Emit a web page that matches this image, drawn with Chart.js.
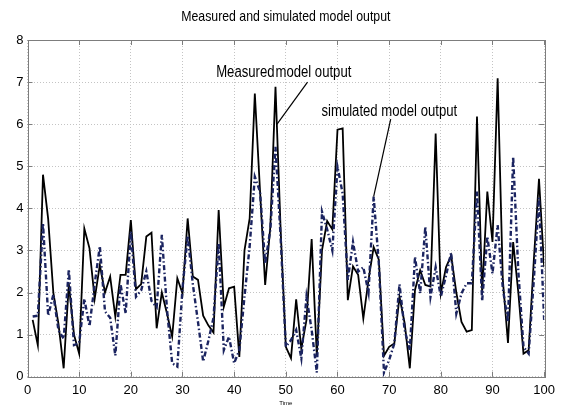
<!DOCTYPE html>
<html>
<head>
<meta charset="utf-8">
<title>Measured and simulated model output</title>
<script src="https://cdn.jsdelivr.net/npm/chart.js@4.4.1/dist/chart.umd.min.js"></script>
<style>
    body { margin: 0; background: #fff; }
    #chartContainer { width: 561px; height: 407px; }
</style>
</head>
<body>
<div id="chartContainer"><canvas id="myChart" width="561" height="407"></canvas></div>
<script>
// time steps (x) and the two output series
const timeSteps = [
    1, 2, 3, 4, 5, 6, 7, 8, 9, 10, 11, 12, 13, 14, 15, 16, 17, 18, 19, 20,
    21, 22, 23, 24, 25, 26, 27, 28, 29, 30, 31, 32, 33, 34, 35, 36, 37, 38, 39, 40,
    41, 42, 43, 44, 45, 46, 47, 48, 49, 50, 51, 52, 53, 54, 55, 56, 57, 58, 59, 60,
    61, 62, 63, 64, 65, 66, 67, 68, 69, 70, 71, 72, 73, 74, 75, 76, 77, 78, 79, 80,
    81, 82, 83, 84, 85, 86, 87, 88, 89, 90, 91, 92, 93, 94, 95, 96, 97, 98, 99, 100
];
const measured = [
    1.35, 0.75, 4.8, 3.75, 2.0, 1.25, 0.2, 2.2, 1.0, 0.55,
    3.52, 3.05, 1.85, 2.65, 2.0, 2.38, 1.43, 2.42, 2.42, 3.72,
    2.08, 2.2, 3.33, 3.42, 1.15, 2.0, 1.5, 0.95, 2.34, 1.98,
    3.76, 2.38, 2.3, 1.45, 1.22, 1.05, 3.96, 1.66, 2.1, 2.14,
    0.47, 3.0, 3.76, 6.73, 4.43, 2.18, 3.56, 6.89, 3.48, 0.71,
    0.44, 1.84, 0.67, 1.35, 3.27, 0.5, 3.0, 3.7, 3.5, 5.87,
    5.9, 1.82, 2.62, 2.42, 1.38, 2.3, 3.08, 2.78, 0.5, 0.71,
    0.79, 1.9, 1.27, 0.2, 2.06, 2.53, 2.18, 2.14, 5.78, 1.98,
    2.6, 2.88, 2.0, 1.3, 1.07, 1.11, 6.18, 2.0, 4.4, 3.2,
    7.09, 2.3, 0.8, 3.2, 2.0, 0.55, 0.63, 2.77, 4.7, 2.6
];
const simulated = [
    1.43, 1.45, 3.65, 1.45, 1.95, 1.1, 0.9, 2.55, 0.75, 0.8,
    1.85, 1.2, 2.2, 3.1, 1.55, 1.4, 0.5, 2.2, 1.5, 3.45,
    1.9, 2.05, 2.5, 1.8, 1.65, 3.37, 1.6, 0.32, 0.24, 2.1,
    3.35, 2.2, 1.3, 0.36, 0.85, 1.4, 3.17, 0.63, 0.95, 0.32,
    0.63, 1.9, 3.1, 4.75, 4.4, 2.69, 3.5, 5.46, 3.3, 0.71,
    0.87, 1.11, 0.44, 1.9, 1.11, 0.1, 3.92, 3.5, 3.0, 4.99,
    4.35, 2.3, 3.2, 2.5, 2.6, 2.0, 4.28, 2.69, 0.1, 0.4,
    0.79, 2.2, 1.11, 0.63, 2.85, 1.98, 3.56, 1.9, 2.6, 1.9,
    2.4, 2.95, 1.5, 1.98, 2.22, 2.22, 4.4, 1.8, 3.33, 2.45,
    3.6, 2.1, 1.3, 5.23, 2.5, 0.71, 0.55, 2.3, 4.25, 1.35
];
const xTicks = [0, 10, 20, 30, 40, 50, 60, 70, 80, 90, 100];
const yTicks = [0, 1, 2, 3, 4, 5, 6, 7, 8];

const chartTitle = 'Measured and simulated model output';

// testo delle frecce (coordinate nei valori degli assi)
const notes = [
    { left: 'Measured', right: 'model output', at: [48, 7.12], from: [54.2, 7.0], tip: [48.3, 6.0] },
    { right: 'simulated model output', at: [56.9, 6.2], from: [70.3, 6.12], tip: [67, simulated[66]] }
];

const FONT = "'Liberation Sans', Arial, sans-serif";
const NARROW = 0.82; // niente Arial Narrow installato: stringo il testo a mano
const FRAME = '#7d7d7d';

function narrowText(ctx, text, x, y, align) {
    ctx.save();
    ctx.translate(x, y);
    ctx.scale(NARROW, 1);
    ctx.textAlign = align;
    ctx.fillText(text, 0, 0);
    ctx.restore();
}

// riquadro + tacche interne stile matlab
const frameAndTicks = {
    id: 'frameAndTicks',
    beforeDatasetsDraw(chart) {
        const { ctx, chartArea: a, scales: { x, y } } = chart;
        ctx.save();
        ctx.strokeStyle = FRAME;
        ctx.lineWidth = 1;
        ctx.beginPath();
        xTicks.forEach(v => {
            const px = Math.round(x.getPixelForValue(v)) + 0.5;
            ctx.moveTo(px, a.bottom); ctx.lineTo(px, a.bottom - 5);
            ctx.moveTo(px, a.top); ctx.lineTo(px, a.top + 5);
        });
        yTicks.forEach(v => {
            const py = Math.round(y.getPixelForValue(v)) + 0.5;
            ctx.moveTo(a.left, py); ctx.lineTo(a.left + 5, py);
            ctx.moveTo(a.right, py); ctx.lineTo(a.right - 5, py);
        });
        ctx.stroke();
        ctx.strokeRect(Math.round(a.left) + 0.5, Math.round(a.top) + 0.5,
            Math.round(a.width), Math.round(a.height));
        ctx.restore();
    }
};

// titolo e frecce con le etichette
const arrows = {
    id: 'arrows',
    afterDatasetsDraw(chart) {
        const { ctx, chartArea: a, scales: { x, y } } = chart;
        const px = p => [x.getPixelForValue(p[0]), y.getPixelForValue(p[1])];
        ctx.save();
        ctx.fillStyle = '#000';
        ctx.strokeStyle = '#000';
        ctx.textBaseline = 'alphabetic';

        ctx.font = '15px ' + FONT;
        narrowText(ctx, chartTitle, (a.left + a.right) / 2, 21, 'center');

        ctx.font = '16px ' + FONT;
        ctx.lineWidth = 1.2;
        notes.forEach(n => {
            const [tx, ty] = px(n.at);
            if (n.left) {
                narrowText(ctx, n.left, tx - 1, ty, 'right');
            }
            narrowText(ctx, n.right, tx, ty, 'left');
            const [fx, fy] = px(n.from);
            const [ex, ey] = px(n.tip);
            ctx.beginPath();
            ctx.moveTo(fx, fy);
            ctx.lineTo(ex, ey);
            ctx.stroke();
        });
        ctx.restore();
    }
};

const ctx = document.getElementById('myChart').getContext('2d');
const myChart = new Chart(ctx, {
    type: 'line',
    data: {
        labels: timeSteps,
        datasets: [
            {
                label: 'Measured model output',
                data: measured,
                borderColor: '#000000',
                borderWidth: 1.8,
                pointRadius: 0,
                tension: 0,
                order: 2,
            },
            {
                label: 'simulated model output',
                data: simulated,
                borderColor: '#1b2460',
                borderWidth: 2.4,
                borderDash: [5, 2.5, 1.5, 2.5],
                pointRadius: 0,
                tension: 0,
                order: 1,
            }
        ]
    },
    options: {
        responsive: false,
        animation: false,
        layout: { padding: { left: 0, right: 15, top: 40, bottom: 0 } },
        scales: {
            x: {
                type: 'linear',
                min: 0,
                max: 100,
                afterBuildTicks: s => { s.ticks = xTicks.map(v => ({ value: v })); },
                afterFit: s => { s.height = 30.3; },
                grid: { color: '#c4c4c4', lineWidth: 1, drawTicks: false },
                border: { display: false, dash: [1, 2] },
                ticks: { color: '#000', padding: 6, maxRotation: 0, font: { family: FONT, size: 13 } },
                title: { display: true, text: 'Time', color: '#000', padding: 0, font: { family: FONT, size: 6 } }
            },
            y: {
                min: 0,
                max: 8,
                afterBuildTicks: s => { s.ticks = yTicks.map(v => ({ value: v })); },
                afterFit: s => { s.width = 27.5; },
                grid: { color: '#c4c4c4', lineWidth: 1, drawTicks: false },
                border: { display: false, dash: [1, 2] },
                ticks: { color: '#000', padding: 4, font: { family: FONT, size: 13 } }
            }
        },
        plugins: {
            legend: { display: false },
            tooltip: { enabled: false },
            title: { display: false }
        }
    },
    plugins: [frameAndTicks, arrows]
});
</script>
</body>
</html>
